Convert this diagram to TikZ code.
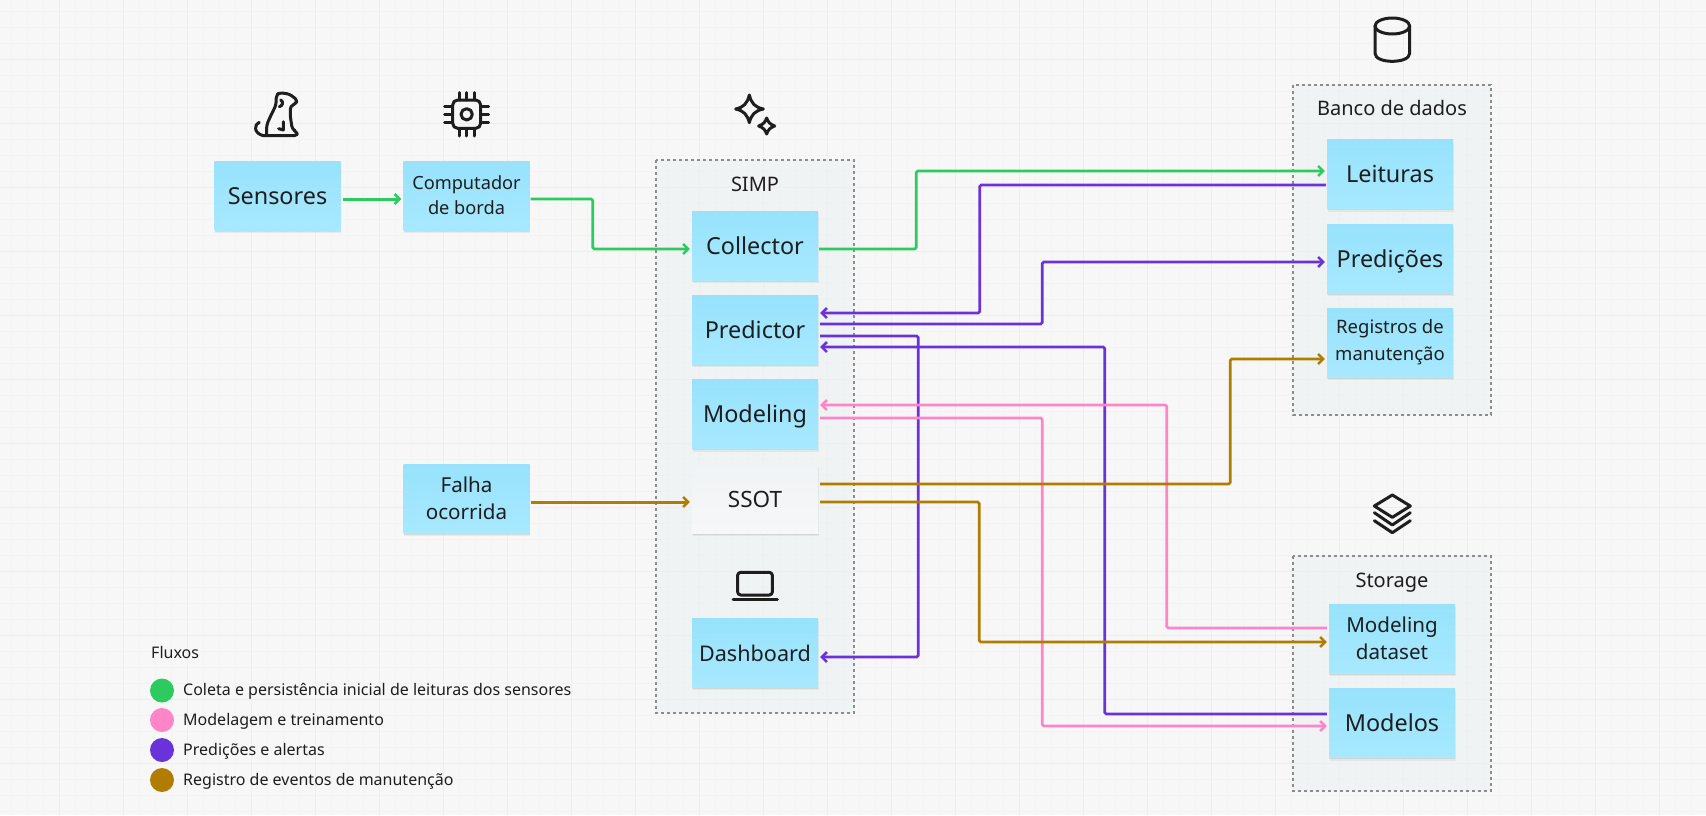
\documentclass[tikz,border=0pt]{standalone}
\usepackage{fontspec}
\setmainfont{Noto Sans}
\usetikzlibrary{arrows.meta,shadows}
\definecolor{bgc}{HTML}{F7F7F7}
\definecolor{gmaj}{HTML}{EEEEEE}
\definecolor{gmin}{HTML}{F3F3F3}
\definecolor{ink}{HTML}{1E1E1E}
\definecolor{cgreen}{HTML}{2DCB5F}
\definecolor{cpink}{HTML}{FF85C8}
\definecolor{cpurple}{HTML}{6A32D9}
\definecolor{cbrown}{HTML}{B07D00}
\definecolor{ntop}{HTML}{98E2FC}
\definecolor{nbot}{HTML}{A7E9FF}
\definecolor{grp}{HTML}{EBF0F3}
\definecolor{stop}{HTML}{F0F3F5}
\definecolor{smid}{HTML}{F2F4F6}
\definecolor{sbot}{HTML}{F6F7F9}
\newcommand{\fsz}[1]{\fontsize{#1}{#1}\selectfont}
\tikzset{
  note/.style={minimum width=126pt,minimum height=69pt,inner sep=0pt,align=center,text=ink,
    top color=ntop,bottom color=nbot,
    general shadow={shadow xshift=.8pt,shadow yshift=-3pt,fill=black,opacity=.05},
    general shadow={shadow xshift=.4pt,shadow yshift=-1.5pt,fill=black,opacity=.07},
    font=\fsz{23.4}},
  oneline/.style={note,text height=17pt,text depth=0pt},
  twoline/.style={note,font=\fsz{18.2},execute at begin node={\baselineskip=25pt}},
  twowide/.style={note,font=\fsz{20.6},execute at begin node={\baselineskip=27.5pt}},
  group/.style={draw=black!45,line width=1.3pt,dash pattern=on 3pt off 3pt,fill=grp,fill opacity=.5},
  title/.style={text=ink,font=\fsz{20},inner sep=0pt,text height=14.5pt,text depth=0pt},
  legend/.style={text=ink,font=\fsz{16},inner sep=0pt,anchor=west},
  dot/.style={circle,minimum size=24pt,inner sep=0pt},
  flow/.style={line width=2.7pt,rounded corners=1.5pt},
  straight/.style={line width=3pt},
  tip/.style={-{Straight Barb[length=5pt,width=10pt,line width=2.5pt]}},
  icon/.style={draw=ink,line width=3pt,line cap=round,line join=round},
}
\begin{document}
\begin{tikzpicture}[x=1pt,y=-1pt]
\useasboundingbox (0,0) rectangle (1706,815);
\fill[bgc] (0,0) rectangle (1706,815);
% grid
\foreach \gx in {11,27,...,1706}{\draw[gmin,line width=.8pt] (\gx,0) -- (\gx,815);}
\foreach \gy in {11,27,...,815}{\draw[gmin,line width=.8pt] (0,\gy) -- (1706,\gy);}
\foreach \gx in {59,123,...,1706}{\draw[gmaj,line width=1pt] (\gx,0) -- (\gx,815);}
\foreach \gy in {59,123,...,815}{\draw[gmaj,line width=1pt] (0,\gy) -- (1706,\gy);}
% groups
\path[group] (656,160) rectangle (854,713);
\path[group] (1293,85) rectangle (1491,415);
\path[group] (1293,556) rectangle (1491,791);
\node[title] (tsimp) at (755,184) {SIMP};
\node[title] (tbanco) at (1392,108) {Banco de dados};
\node[title] (tstor) at (1392,580) {Storage};
% notes
\node[oneline] (sens) at (277.5,195.5) {Sensores};
\node[twoline] (comp) at (466.5,195.5) {Computador\\de borda};
\node[twowide] (falha) at (466.5,498.5) {Falha\\ocorrida};
\node[oneline] (coll) at (755,245.5) {Collector};
\node[oneline] (pred) at (755,329.5) {Predictor};
\node[oneline] (mode) at (755,414) {Modeling};
\node[oneline,top color=stop,middle color=smid,bottom color=sbot,font=\fsz{22.5}] (ssot) at (755,498.5) {SSOT};
\node[oneline,font=\fsz{21.6}] (dash) at (755,652.5) {Dashboard};
\node[oneline] (leit) at (1390,174) {Leituras};
\node[oneline] (pdc) at (1390,258.5) {Predições};
\node[twoline,font=\fsz{18.5},execute at begin node={\baselineskip=27pt}] (regs) at (1390,342.5) {Registros de\\manutenção};
\node[twowide] (dset) at (1392,638.5) {Modeling\\dataset};
\node[oneline] (mods) at (1392,723) {Modelos};
% green
\draw[flow,straight,tip,cgreen] ([shift={(2,3.5)}]sens.east) -- ([shift={(-2,3.5)}]comp.west);
\draw[flow,tip,cgreen] ([shift={(1,3.5)}]comp.east) -- ++(62,0) |- ([shift={(-2,3.5)}]coll.west);
\draw[flow,tip,cgreen] ([shift={(1,3.5)}]coll.east) -- ++(97,0) |- ([shift={(-2,-3)}]leit.west);
% purple
\draw[flow,tip,cpurple] ([shift={(-1,11)}]leit.west) -- ++(-346,0) |- ([shift={(2,-16.5)}]pred.east);
\draw[flow,tip,cpurple] ([shift={(2,-5.5)}]pred.east) -- ++(222,0) |- ([shift={(-2,3.5)}]pdc.west);
\draw[flow,tip,cpurple] ([shift={(2,6.5)}]pred.east) -- ++(98,0) |- ([shift={(2,4.5)}]dash.east);
\draw[flow,tip,cpurple] ([shift={(-2,-9)}]mods.west) -- ++(-222,0) |- ([shift={(2,17.5)}]pred.east);
% pink
\draw[flow,tip,cpink] ([shift={(-2,-10.5)}]dset.west) -- ++(-160,0) |- ([shift={(2,-9)}]mode.east);
\draw[flow,cpink,tip] ([shift={(2,4)}]mode.east) -- ++(222,0) |- ([shift={(-2,3)}]mods.west);
% brown
\draw[flow,tip,cbrown] ([shift={(2,-14.5)}]ssot.east) -- ++(410,0) |- ([shift={(-2,16.5)}]regs.west);
\draw[flow,tip,cbrown] ([shift={(2,3.5)}]ssot.east) -- ++(159,0) |- ([shift={(-2,3.5)}]dset.west);
\draw[flow,straight,tip,cbrown] ([shift={(1,3.5)}]falha.east) -- ([shift={(-2,3.5)}]ssot.west);
% legend
\node[legend] (lt) at (151,652) {Fluxos};
\node[dot,fill=cgreen] (d1) at (162,690.5) {};
\node[dot,fill=cpink] (d2) at (162,720) {};
\node[dot,fill=cpurple] (d3) at (162,750) {};
\node[dot,fill=cbrown] (d4) at (162,780) {};
\node[legend] (l1) at (183,691.5) {Coleta e persistência inicial de leituras dos sensores};
\node[legend] (l2) at (183,721.5) {Modelagem e treinamento};
\node[legend] (l3) at (183,751) {Predições e alertas};
\node[legend] (l4) at (183,781.5) {Registro de eventos de manutenção};
% dog icon
\begin{scope}[shift={(240,80)},x=.3333pt,y=-.3333pt]
\draw[icon] (58,127) .. controls (42,132) and (40,160) .. (70,167);
\draw[icon,rounded corners=3pt] (70,167) -- (172,167) -- (170,155) -- (157,148) -- (151,110) -- (151,78) -- (167,72) -- (172,60) -- (148,42) -- (118,38) -- (109,46) -- (108,75) -- (90,112) -- (80,135) -- (80,167);
\draw[icon] (122,60) .. controls (132,65) and (128,78) .. (118,80);
\draw[icon] (130,125) -- (130,150) -- (116,146);
\end{scope}
% chip icon
\begin{scope}[shift={(430,80)},x=.3333pt,y=-.3333pt]
\draw[icon,rounded corners=5pt] (68,60) rectangle (152,145);
\draw[icon] (110,103) circle (17*.3333pt);
\foreach \p in {87,110,133}{\draw[icon] (\p,38) -- (\p,60); \draw[icon] (\p,145) -- (\p,168);}
\foreach \p in {80,103,127}{\draw[icon] (44,\p) -- (68,\p); \draw[icon] (152,\p) -- (176,\p);}
\end{scope}
% sparkle icon
\begin{scope}[shift={(720,80)},x=.3333pt,y=-.3333pt]
\draw[icon] (88,45) .. controls (94,70) and (105,82) .. (130,87) .. controls (105,92) and (94,104) .. (88,128) .. controls (82,104) and (71,92) .. (47,87) .. controls (71,82) and (82,70) .. cycle;
\draw[icon] (140,114) .. controls (144,126) and (150,133) .. (164,138) .. controls (150,143) and (144,150) .. (140,162) .. controls (136,150) and (130,143) .. (116,138) .. controls (130,133) and (136,126) .. cycle;
\end{scope}
% database icon
\begin{scope}[shift={(1270,0)},x=.3333pt,y=-.3333pt]
\draw[icon] (367,78) ellipse (52*.3333pt and 24*.3333pt);
\draw[icon] (315,78) -- (315,160) .. controls (315,192) and (419,192) .. (419,160) -- (419,78);
\end{scope}
% stack icon
\begin{scope}[shift={(1280,490)},x=.3333pt,y=-.3333pt]
\draw[icon] (337,15) -- (391,48) -- (337,82) -- (283,48) -- cycle;
\draw[icon] (283,68) -- (337,105) -- (391,68);
\draw[icon] (283,92) -- (337,128) -- (391,92);
\end{scope}
% laptop icon
\begin{scope}[shift={(700,550)},x=.3333pt,y=-.3333pt]
\draw[icon,rounded corners=3pt] (113,67) rectangle (217,135);
\draw[icon] (99,147) -- (232,147);
\end{scope}
\end{tikzpicture}
\end{document}
